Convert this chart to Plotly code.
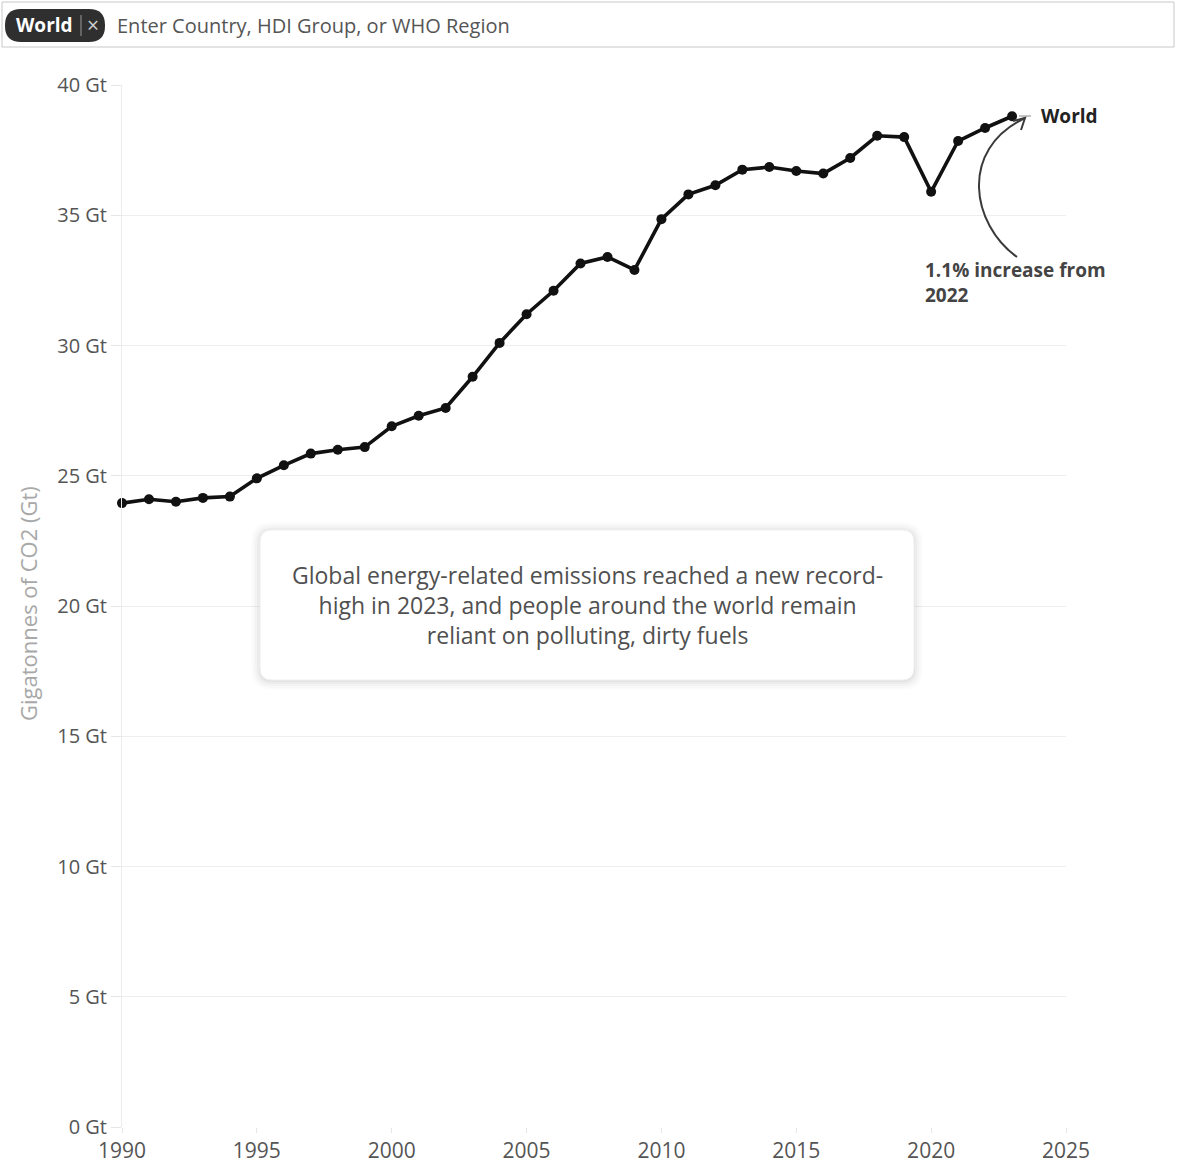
import plotly.graph_objects as go

# Global energy-related CO2 emissions, gigatonnes
years = list(range(1990, 2024))
emissions = [23.95, 24.1, 24.0, 24.15, 24.2, 24.9, 25.4, 25.85, 26.0, 26.1,
             26.9, 27.3, 27.6, 28.8, 30.1, 31.2, 32.1, 33.15, 33.4, 32.9,
             34.85, 35.8, 36.15, 36.75, 36.85, 36.7, 36.6, 37.2, 38.05, 38.0,
             35.9, 37.85, 38.35, 38.8]
series_name = "World"
y_ticks = [0, 5, 10, 15, 20, 25, 30, 35, 40]
y_tick_text = [f"{v} Gt" for v in y_ticks]
x_ticks = [1990, 1995, 2000, 2005, 2010, 2015, 2020, 2025]
y_title = "Gigatonnes of CO2 (Gt)"

W, H = 1178, 1167
ML, MR, MT, MB = 122, 112, 85, 40
PW, PH = W - ML - MR, H - MT - MB

FONT = "Open Sans"


def px(x):
    return (x - ML) / PW


def py(y):
    return (H - MB - y) / PH


def rounded_rect(x0, y0, x1, y1, r):
    rx, ry = r / PW, r / PH
    a, b, c, d = px(x0), py(y0), px(x1), py(y1)
    return (f"M {a+rx},{b} L {c-rx},{b} Q {c},{b} {c},{b-ry} "
            f"L {c},{d+ry} Q {c},{d} {c-rx},{d} L {a+rx},{d} "
            f"Q {a},{d} {a},{d+ry} L {a},{b-ry} Q {a},{b} {a+rx},{b} Z")


fig = go.Figure()
fig.add_trace(go.Scatter(
    x=years, y=emissions, mode="lines+markers", name=series_name,
    line=dict(color="#111111", width=3.6),
    marker=dict(color="#111111", size=10),
    showlegend=False, cliponaxis=False,
))

shapes = []

# search bar with a selected "World" chip
shapes.append(dict(type="rect", xref="paper", yref="paper",
                   x0=px(2), y0=py(2), x1=px(1174), y1=py(47),
                   line=dict(color="#c8c8c8", width=1), fillcolor="white", layer="above"))
shapes.append(dict(type="path", xref="paper", yref="paper",
                   path=rounded_rect(5, 9, 105, 42, 16),
                   fillcolor="#2f2f2f", line=dict(width=0), layer="above"))
shapes.append(dict(type="line", xref="paper", yref="paper",
                   x0=px(81), x1=px(81), y0=py(15), y1=py(36),
                   line=dict(color="#9a9a9a", width=1), layer="above"))

# callout box with a soft, diffuse shadow
for grow, alpha in [(9, 0.012), (7, 0.016), (5, 0.02), (3, 0.026), (1, 0.035)]:
    shapes.append(dict(type="path", xref="paper", yref="paper",
                       path=rounded_rect(260 - grow, 530 - grow + 1, 914 + grow, 680 + grow + 1, 12 + grow),
                       fillcolor=f"rgba(0,0,0,{alpha})", line=dict(width=0), layer="above"))
shapes.append(dict(type="path", xref="paper", yref="paper",
                   path=rounded_rect(260, 530, 914, 680, 12),
                   fillcolor="white", line=dict(color="#f0f0f0", width=1), layer="above"))

# curved arrow pointing at the latest value
p0, p1, p2, p3 = (1017, 257), (972, 225), (958, 150), (1025, 118)
shapes.append(dict(type="path", xref="paper", yref="paper",
                   path=(f"M {px(p0[0])},{py(p0[1])} C {px(p1[0])},{py(p1[1])} "
                         f"{px(p2[0])},{py(p2[1])} {px(p3[0])},{py(p3[1])}"),
                   line=dict(color="#3a3a3a", width=2), layer="above"))
shapes.append(dict(type="path", xref="paper", yref="paper",
                   path=(f"M {px(1013)},{py(121)} L {px(1025)},{py(118)} "
                         f"L {px(1021)},{py(130)}"),
                   line=dict(color="#3a3a3a", width=2), layer="above"))
# leader from last point to the series label
shapes.append(dict(type="line", xref="paper", yref="paper",
                   x0=px(1019), x1=px(1031), y0=py(116), y1=py(116),
                   line=dict(color="#b0b0b0", width=1.5), layer="below"))

annotations = [
    dict(xref="paper", yref="paper", x=px(14), y=py(25.5), xanchor="left", yanchor="middle",
         text="<b>World</b>", showarrow=False, font=dict(family=FONT, size=19, color="white")),
    dict(xref="paper", yref="paper", x=px(93), y=py(25.5), xanchor="center", yanchor="middle",
         text="×", showarrow=False, font=dict(family=FONT, size=21, color="#d0d0d0")),
    dict(xref="paper", yref="paper", x=px(115), y=py(25.5), xanchor="left", yanchor="middle",
         text="Enter Country, HDI Group, or WHO Region", showarrow=False,
         font=dict(family=FONT, size=20, color="#555555")),
    dict(xref="paper", yref="paper", x=px(587), y=py(605), xanchor="center", yanchor="middle",
         text=("Global energy-related emissions reached a new record-<br>"
               "high in 2023, and people around the world remain<br>"
               "reliant on polluting, dirty fuels"),
         showarrow=False, align="center",
         font=dict(family=FONT, size=23, color="#505050")),
    dict(x=years[-1], y=emissions[-1], xref="x", yref="y", xanchor="left", yanchor="middle",
         xshift=27, text=f"<b>{series_name}</b>", showarrow=False,
         font=dict(family=FONT, size=19, color="#222222")),
    dict(xref="paper", yref="paper", x=px(923), y=py(283), xanchor="left", yanchor="middle",
         text="<b>1.1% increase from<br>2022</b>", showarrow=False, align="left",
         font=dict(family=FONT, size=19, color="#444444")),
    # y-axis title
    dict(xref="paper", yref="paper", x=px(28), y=py(604), xanchor="center", yanchor="middle",
         text=y_title, textangle=-90, showarrow=False,
         font=dict(family=FONT, size=22, color="#a8a8a8")),
]

fig.update_layout(
    width=W, height=H,
    margin=dict(l=ML, r=MR, t=MT, b=MB, autoexpand=False),
    paper_bgcolor="white", plot_bgcolor="white",
    shapes=shapes, annotations=annotations,
    xaxis=dict(range=[1990, 2025], tickvals=x_ticks, showgrid=False, zeroline=False,
               showline=False, ticks="outside", ticklen=5, tickcolor="#e6e6e6",
               automargin=False,
               tickfont=dict(family=FONT, size=21, color="#555555")),
    yaxis=dict(range=[0, 40], tickvals=y_ticks, ticktext=y_tick_text,
               showgrid=True, gridcolor="#eeeeee", gridwidth=1,
               zeroline=False, showline=True, linecolor="#ececec",
               ticks="outside", ticklen=10, tickcolor="#e6e6e6",
               automargin=False,
               tickfont=dict(family=FONT, size=20, color="#555555")),
)

fig.write_html("out.html")
